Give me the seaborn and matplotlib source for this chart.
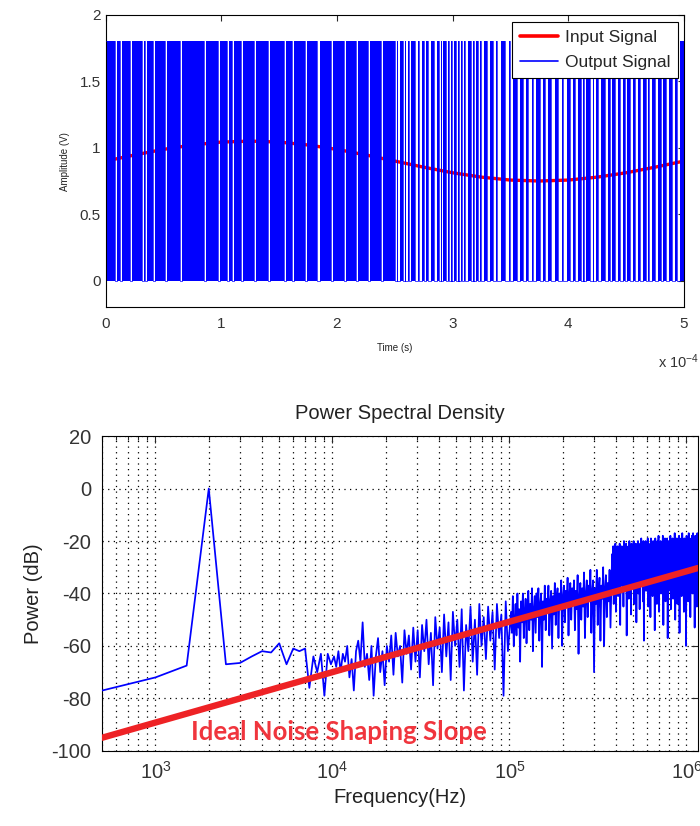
import numpy as np
import seaborn as sns
import matplotlib.pyplot as plt
from matplotlib.ticker import LogLocator, NullFormatter, FixedLocator


# ---- top panel: sigma-delta input / output, time in units of 1e-4 s ----
input_t = [0, 0.25, 0.5, 0.75, 1.0, 1.25, 1.5, 1.75, 2.0, 2.25, 2.5,
           2.75, 3.0, 3.25, 3.5, 3.75, 4.0, 4.25, 4.5, 4.75, 5.0]
input_v = [0.90, 0.946, 0.988, 1.021, 1.043, 1.05, 1.043, 1.021, 0.988, 0.946, 0.90,
           0.854, 0.812, 0.779, 0.757, 0.75, 0.757, 0.779, 0.812, 0.854, 0.90]

OUTPUT_HIGH = 1.8
OUTPUT_LOW = 0.0
# times where the output stays low long enough to show a white gap
gap_t = [0.09, 0.13, 0.22, 0.32, 0.35, 0.42, 0.52, 0.65, 0.86, 0.98,
         1.06, 1.10, 1.18, 1.29, 1.41, 1.55, 1.62, 1.73, 1.84, 1.96,
         2.07, 2.17, 2.28, 2.39, 2.51, 2.53, 2.58, 2.60, 2.63, 2.69,
         2.72, 2.76, 2.80, 2.85, 2.89, 2.91, 2.95, 2.98, 3.00, 3.04,
         3.06, 3.09, 3.12, 3.17, 3.19, 3.23, 3.26, 3.31, 3.36, 3.40,
         3.47, 3.51, 3.57, 3.62, 3.67, 3.71, 3.77, 3.81, 3.87, 3.93,
         3.97, 4.03, 4.07, 4.12, 4.14, 4.20, 4.23, 4.27, 4.33, 4.37,
         4.42, 4.46, 4.50, 4.55, 4.59, 4.63, 4.68, 4.71, 4.76, 4.81,
         4.86, 4.91, 4.95]
gap_zone_end = [2.5, 3.3, 4.1, 5.0]
gap_zone_width = [0.018, 0.022, 0.030, 0.024]

# ---- bottom panel: PSD ----
psd_low_hz = [500, 1000, 1500, 2000, 2500, 3000, 3500, 4000, 4500, 5000,
              5500, 6000, 6500, 7000, 7400, 7800, 8200, 8600, 9000, 9400, 9800]
psd_low_db = [-77, -72, -67.5, 0, -67, -66.5, -64, -62, -62.5, -59,
              -67, -61, -62, -61, -76, -64, -70, -63, -79, -63, -67]

psd_mid1_range = (10.2e3, 98e3)
psd_mid1_db = [-64, -68, -62, -70, -63, -66, -60, -72, -65, -77,
               -62, -58, -66, -51, -68, -63, -73, -60, -79, -64,
               -57, -70, -62, -75, -60, -66, -56, -71, -55, -64,
               -60, -74, -54, -63, -56, -69, -53, -66, -54, -72,
               -52, -62, -50, -67, -55, -75, -49, -61, -53, -70,
               -48, -64, -51, -73, -47, -60, -50, -68, -46, -77,
               -52, -62, -45, -66, -50, -71, -44, -60, -49, -65,
               -45, -58, -47, -69, -44, -57, -48, -79, -43, -62]

psd_mid2_range = (102e3, 372e3)
psd_mid2_db = [-47, -55, -41, -60, -50, -44, -56, -40, -53, -46,
               -66, -43, -51, -40, -57, -47, -42, -59, -45, -39,
               -54, -44, -50, -38, -62, -46, -41, -55, -40, -49,
               -38, -58, -44, -40, -68, -43, -50, -37, -54, -42,
               -47, -37, -56, -43, -39, -61, -41, -48, -36, -52,
               -42, -38, -57, -40, -46, -35, -60, -41, -37, -51,
               -39, -45, -34, -56, -40, -36, -50, -38, -44, -35,
               -54, -39, -46, -33, -63, -41, -36, -50, -38, -45,
               -32, -57, -40, -35, -49, -37, -43, -31, -55, -39,
               -35, -70, -38, -44, -31, -52, -39, -34, -58, -37,
               -42, -30, -60, -38, -33, -49, -36, -43, -31, -53]

psd_high_range = (380e3, 1.16e6)
psd_high_db = [-25, -38, -22, -44, -24, -31, -21, -47, -26, -36,
               -22, -41, -23, -29, -21, -52, -25, -37, -22, -33,
               -24, -45, -20, -39, -23, -30, -21, -56, -25, -35,
               -22, -42, -20, -32, -24, -48, -21, -38, -23, -28,
               -20, -44, -24, -36, -21, -51, -22, -33, -20, -40,
               -23, -46, -21, -30, -19, -37, -24, -43, -20, -58,
               -22, -34, -20, -39, -23, -29, -19, -45, -21, -36,
               -22, -49, -19, -32, -23, -41, -20, -27, -21, -54,
               -19, -38, -22, -44, -20, -31, -18, -47, -22, -35,
               -20, -40, -21, -29, -18, -52, -22, -37, -19, -43,
               -21, -33, -19, -57, -20, -39, -22, -30, -18, -46,
               -21, -36, -19, -42, -20, -28, -17, -50, -21, -35,
               -19, -44, -20, -31, -18, -55, -21, -38, -19, -41,
               -17, -29, -20, -47, -19, -34, -21, -60, -18, -37,
               -20, -43, -17, -30, -19, -49, -20, -36, -18, -40,
               -17, -28, -20, -53, -18, -35, -19, -45, -17, -33]

slope_hz = [500, 1.16e6]
slope_db = [-95, -30.3]

BLUE = '#0000ff'


def gap_width(t):
    for end, w in zip(gap_zone_end, gap_zone_width):
        if t <= end:
            return w
    return gap_zone_width[-1]


def build_output():
    t, v = [0.0], [OUTPUT_HIGH]
    for g in gap_t:
        h = gap_width(g) / 2
        t += [g - h, g - h, g + h, g + h]
        v += [OUTPUT_HIGH, OUTPUT_LOW, OUTPUT_LOW, OUTPUT_HIGH]
    t.append(5.0)
    v.append(OUTPUT_HIGH)
    return np.array(t), np.array(v)


def build_psd():
    hz = list(psd_low_hz)
    db = list(psd_low_db)
    for rng, vals in [(psd_mid1_range, psd_mid1_db),
                      (psd_mid2_range, psd_mid2_db),
                      (psd_high_range, psd_high_db)]:
        hz += list(np.geomspace(rng[0], rng[1], len(vals)))
        db += vals
    return np.array(hz), np.array(db)


sns.set_style('white')
plt.rcParams['font.family'] = ['Liberation Sans', 'DejaVu Sans']
plt.rcParams['mathtext.fontset'] = 'custom'
plt.rcParams['mathtext.rm'] = 'Liberation Sans'
plt.rcParams['mathtext.it'] = 'Liberation Sans'
plt.rcParams['axes.unicode_minus'] = False

fig = plt.figure(figsize=(7, 8.26), dpi=100)
ax1 = fig.add_axes([0.151, 0.628, 0.826, 0.354])
ax2 = fig.add_axes([0.146, 0.091, 0.851, 0.381])

# top panel
out_t, out_v = build_output()
sns.lineplot(x=input_t, y=input_v, color='red', lw=2.4, label='Input Signal',
             estimator=None, sort=False, zorder=1, ax=ax1)
ax1.fill_between(out_t, OUTPUT_LOW, out_v, color=BLUE, lw=0, zorder=2)
sns.lineplot(x=out_t, y=out_v, color=BLUE, lw=0.5, label='Output Signal',
             estimator=None, sort=False, zorder=3, ax=ax1)
ax1.set_xlim(0, 5)
ax1.set_ylim(-0.2, 2)
ax1.set_xticks([0, 1, 2, 3, 4, 5])
ax1.set_yticks([0, 0.5, 1, 1.5, 2])
ax1.set_yticklabels(['0', '0.5', '1', '1.5', '2'])
ax1.tick_params(direction='in', top=True, right=True, length=4, width=0.8,
                labelsize=11, labelcolor='#333333')
ax1.tick_params(axis='x', pad=7)
ax1.set_xlabel('Time (s)', fontsize=7, labelpad=9, color='#222222')
ax1.set_ylabel('Amplitude (V)', fontsize=7, labelpad=7, color='#222222')
leg = ax1.legend(loc='upper right', bbox_to_anchor=(0.99, 0.976), borderaxespad=0,
                 fontsize=12.5, fancybox=False, framealpha=1, edgecolor='black',
                 handlelength=2.2, handletextpad=0.4, borderpad=0.45,
                 labelspacing=0.6)
leg.get_frame().set_linewidth(0.8)
for lh in leg.get_lines():
    lh.set_linewidth(2.6 if lh.get_color() == 'red' else 1.2)
fig.text(0.999, 0.562, r'x 10$^{-4}$', ha='right', va='center', fontsize=10.5,
         color='#333333')

# bottom panel
psd_hz, psd_db = build_psd()
ax2.set_xscale('log')
sns.lineplot(x=psd_hz, y=psd_db, color=BLUE, lw=1.25, estimator=None, sort=False,
             zorder=3, ax=ax2)
sns.lineplot(x=slope_hz, y=slope_db, color='#ee2225', lw=4.6, estimator=None,
             sort=False, zorder=4, ax=ax2, solid_capstyle='round')
ax2.text(1590, -93, 'Ideal Noise Shaping Slope', color='#f0353d', fontsize=18.5,
         fontweight='bold', family=['Lato', 'DejaVu Sans'], va='center', zorder=5)
ax2.set_xlim(500, 1.16e6)
ax2.set_ylim(-100, 20)
ax2.set_yticks(range(-100, 21, 20))
ax2.xaxis.set_major_locator(FixedLocator([1e3, 1e4, 1e5, 1e6]))
ax2.xaxis.set_minor_locator(LogLocator(base=10, subs=np.arange(2, 10), numticks=30))
ax2.xaxis.set_minor_formatter(NullFormatter())
ax2.grid(True, which='major', ls=(0, (1, 3.5)), color='black', lw=0.9)
ax2.grid(True, which='minor', axis='x', ls=(0, (1, 3.5)), color='black', lw=0.9)
ax2.tick_params(which='both', direction='in', top=True, right=True, width=0.8,
                labelsize=14.5, labelcolor='#333333')
ax2.tick_params(which='major', length=5)
ax2.tick_params(which='minor', length=3)
ax2.tick_params(axis='x', pad=7)
ax2.tick_params(axis='y', pad=8)
ax2.set_title('Power Spectral Density', fontsize=14.5, pad=12, color='#222222')
ax2.set_xlabel('Frequency(Hz)', fontsize=14.5, labelpad=4, color='#222222')
ax2.set_ylabel('Power (dB)', fontsize=14.5, labelpad=6, color='#222222')

for ax in (ax1, ax2):
    for sp in ax.spines.values():
        sp.set_color('black')
        sp.set_linewidth(0.8)
        sp.set_visible(True)

fig.savefig('out.png', dpi=100)
